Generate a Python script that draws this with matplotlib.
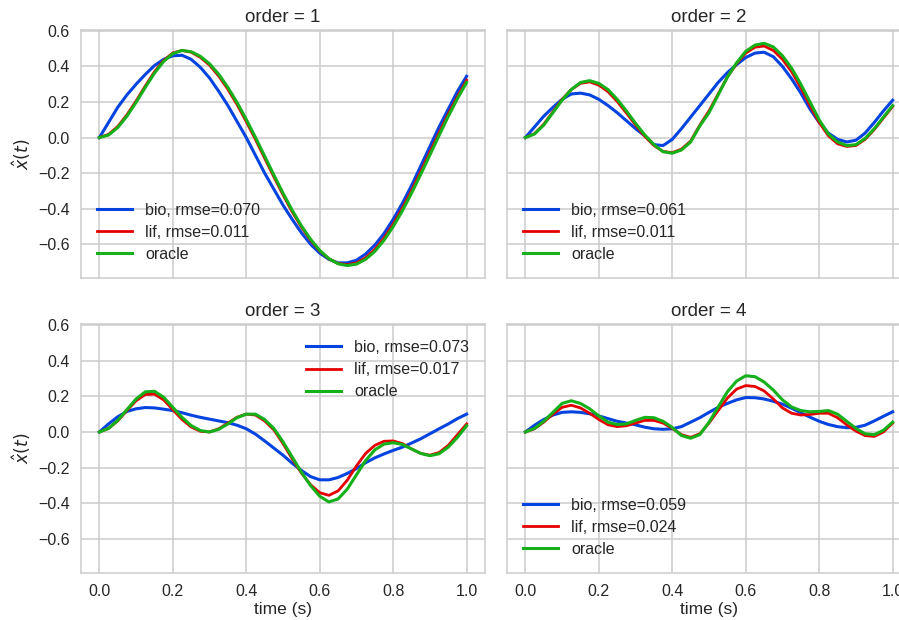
import numpy as np
import matplotlib
matplotlib.use("Agg")
import matplotlib.pyplot as plt

# ---------------- data ----------------
t = [round(0.025 * i, 3) for i in range(41)]
orders = [1, 2, 3, 4]

bio_rmse = ["0.070", "0.061", "0.073", "0.059"]
lif_rmse = ["0.011", "0.011", "0.017", "0.024"]

oracle1 = [0, 0.014, 0.056, 0.120, 0.198, 0.282, 0.362, 0.428, 0.472, 0.490, 0.483, 0.457, 0.415,
           0.356, 0.282, 0.197, 0.102, 0.001, -0.104, -0.210, -0.312, -0.409, -0.496, -0.572, -0.635,
           -0.681, -0.710, -0.720, -0.712, -0.685, -0.640, -0.578, -0.501, -0.412, -0.313, -0.207,
           -0.098, 0.012, 0.119, 0.219, 0.310]
lif1 = [0, 0.018, 0.062, 0.128, 0.206, 0.290, 0.370, 0.434, 0.476, 0.490, 0.480, 0.451, 0.407,
        0.346, 0.271, 0.185, 0.090, -0.011, -0.116, -0.221, -0.322, -0.418, -0.503, -0.578, -0.638,
        -0.682, -0.708, -0.715, -0.705, -0.676, -0.629, -0.565, -0.487, -0.397, -0.298, -0.191,
        -0.082, 0.027, 0.133, 0.231, 0.322]
bio1 = [0, 0.085, 0.170, 0.240, 0.300, 0.355, 0.405, 0.440, 0.460, 0.463, 0.440, 0.395, 0.335,
        0.260, 0.180, 0.090, 0.000, -0.100, -0.200, -0.290, -0.380, -0.460, -0.535, -0.600, -0.650,
        -0.685, -0.705, -0.705, -0.690, -0.655, -0.605, -0.540, -0.460, -0.370, -0.270, -0.160,
        -0.050, 0.060, 0.160, 0.260, 0.345]

oracle2 = [0, 0.020, 0.070, 0.140, 0.210, 0.270, 0.310, 0.320, 0.305, 0.270, 0.215, 0.150, 0.080,
           0.015, -0.040, -0.080, -0.088, -0.070, -0.025, 0.065, 0.140, 0.240, 0.340, 0.420, 0.485,
           0.520, 0.530, 0.510, 0.460, 0.390, 0.300, 0.200, 0.100, 0.020, -0.025, -0.045, -0.040,
           -0.005, 0.050, 0.115, 0.180]
lif2 = [0, 0.022, 0.075, 0.145, 0.215, 0.270, 0.305, 0.313, 0.295, 0.258, 0.203, 0.138, 0.070,
        0.007, -0.045, -0.078, -0.085, -0.065, -0.020, 0.070, 0.150, 0.245, 0.340, 0.415, 0.475,
        0.508, 0.515, 0.490, 0.440, 0.370, 0.280, 0.180, 0.085, 0.010, -0.035, -0.050, -0.045,
        -0.010, 0.045, 0.110, 0.175]
bio2 = [0, 0.060, 0.120, 0.170, 0.215, 0.245, 0.250, 0.240, 0.215, 0.180, 0.140, 0.095, 0.050,
        0.010, -0.040, -0.045, -0.010, 0.050, 0.115, 0.180, 0.245, 0.310, 0.365, 0.410, 0.450,
        0.475, 0.480, 0.455, 0.400, 0.330, 0.250, 0.160, 0.085, 0.025, -0.010, -0.025, -0.015,
        0.025, 0.085, 0.150, 0.210]

oracle3 = [0, 0.020, 0.065, 0.125, 0.185, 0.225, 0.228, 0.195, 0.138, 0.082, 0.036, 0.008, 0.000,
           0.015, 0.045, 0.080, 0.100, 0.100, 0.070, 0.020, -0.055, -0.140, -0.225, -0.300, -0.360,
           -0.392, -0.375, -0.320, -0.240, -0.160, -0.100, -0.068, -0.060, -0.070, -0.095, -0.120,
           -0.133, -0.122, -0.085, -0.030, 0.035]
lif3 = [0, 0.020, 0.062, 0.120, 0.175, 0.210, 0.212, 0.180, 0.125, 0.070, 0.028, 0.004, 0.000,
        0.018, 0.050, 0.083, 0.100, 0.095, 0.062, 0.012, -0.065, -0.150, -0.230, -0.295, -0.340,
        -0.355, -0.330, -0.270, -0.190, -0.120, -0.075, -0.052, -0.050, -0.065, -0.095, -0.120,
        -0.130, -0.115, -0.075, -0.015, 0.045]
bio3 = [0, 0.045, 0.085, 0.115, 0.130, 0.137, 0.135, 0.128, 0.120, 0.108, 0.094, 0.082, 0.072,
        0.062, 0.052, 0.038, 0.018, -0.012, -0.050, -0.090, -0.130, -0.175, -0.215, -0.250, -0.268,
        -0.268, -0.255, -0.232, -0.205, -0.172, -0.145, -0.123, -0.103, -0.085, -0.062, -0.038,
        -0.010, 0.018, 0.045, 0.075, 0.100]

oracle4 = [0, 0.020, 0.060, 0.110, 0.160, 0.175, 0.160, 0.130, 0.090, 0.055, 0.042, 0.045, 0.065,
           0.082, 0.080, 0.060, 0.025, -0.020, -0.035, -0.015, 0.055, 0.140, 0.225, 0.285, 0.315,
           0.310, 0.280, 0.235, 0.180, 0.140, 0.120, 0.113, 0.115, 0.120, 0.100, 0.060, 0.020,
           -0.010, -0.015, 0.010, 0.055]
lif4 = [0, 0.018, 0.055, 0.100, 0.138, 0.150, 0.135, 0.105, 0.070, 0.040, 0.030, 0.035, 0.050,
        0.065, 0.065, 0.050, 0.020, -0.015, -0.030, -0.010, 0.050, 0.120, 0.190, 0.240, 0.260,
        0.255, 0.230, 0.185, 0.135, 0.105, 0.095, 0.098, 0.105, 0.105, 0.080, 0.040, 0.005,
        -0.020, -0.025, 0.000, 0.050]
bio4 = [0, 0.038, 0.070, 0.095, 0.110, 0.113, 0.110, 0.102, 0.090, 0.075, 0.060, 0.050, 0.040,
        0.027, 0.018, 0.015, 0.018, 0.030, 0.055, 0.080, 0.110, 0.138, 0.160, 0.180, 0.193,
        0.192, 0.185, 0.172, 0.156, 0.133, 0.108, 0.083, 0.060, 0.042, 0.030, 0.024, 0.026,
        0.038, 0.062, 0.088, 0.113]

bio = [bio1, bio2, bio3, bio4]
lif = [lif1, lif2, lif3, lif4]
oracle = [oracle1, oracle2, oracle3, oracle4]

xticks = [0.0, 0.2, 0.4, 0.6, 0.8, 1.0]
yticks = [-0.6, -0.4, -0.2, 0.0, 0.2, 0.4, 0.6]

# ---------------- style ----------------
plt.rcParams['font.family'] = ['Liberation Sans', 'DejaVu Sans']
plt.rcParams['axes.unicode_minus'] = True
TXT = '#262626'
GRID = '#cccccc'
C_BIO = '#0343df'
C_LIF = '#e50000'
C_ORA = '#15b01a'

fig = plt.figure(figsize=(8.99, 6.20), dpi=100)
W, H = 899.0, 620.0
boxes = [(81, 30, 485, 278), (507, 30, 911, 278), (81, 324, 485, 573), (507, 324, 911, 573)]
legend_locs = ['lower left', 'lower left', 'upper right', 'lower left']

for i, (x0, y0, x1, y1) in enumerate(boxes):
    ax = fig.add_axes([x0 / W, 1 - y1 / H, (x1 - x0) / W, (y1 - y0) / H])
    ax.set_facecolor('white')
    ax.plot(t, bio[i], color=C_BIO, lw=2.2, label='bio, rmse=%s' % bio_rmse[i])
    ax.plot(t, lif[i], color=C_LIF, lw=2.0, label='lif, rmse=%s' % lif_rmse[i])
    ax.plot(t, oracle[i], color=C_ORA, lw=2.2, label='oracle')
    ax.set_xlim(-0.05, 1.05)
    ax.set_ylim(-0.79, 0.605)
    ax.set_xticks(xticks)
    ax.set_yticks(yticks)
    ax.grid(True, color=GRID, lw=1.1)
    ax.set_axisbelow(True)
    for s in ax.spines.values():
        s.set_color(GRID)
        s.set_linewidth(1.1)
    ax.tick_params(length=0, labelsize=11.5, colors=TXT, pad=8)
    ax.set_title('order = %d' % orders[i], fontsize=13.5, color=TXT, pad=6)
    if i in (0, 1):
        ax.tick_params(labelbottom=False)
    else:
        ax.set_xlabel('time (s)', fontsize=12.5, color=TXT, labelpad=2)
    if i in (1, 3):
        ax.tick_params(labelleft=False)
    else:
        ax.set_ylabel(r'$\hat{x}(t)$', fontsize=12.5, color=TXT, labelpad=4)
    leg = ax.legend(loc=legend_locs[i], frameon=False, fontsize=11.5,
                    handlelength=2.2, labelspacing=0.45, borderaxespad=0.6)
    for tx in leg.get_texts():
        tx.set_color(TXT)

fig.savefig('out.png', dpi=100)
